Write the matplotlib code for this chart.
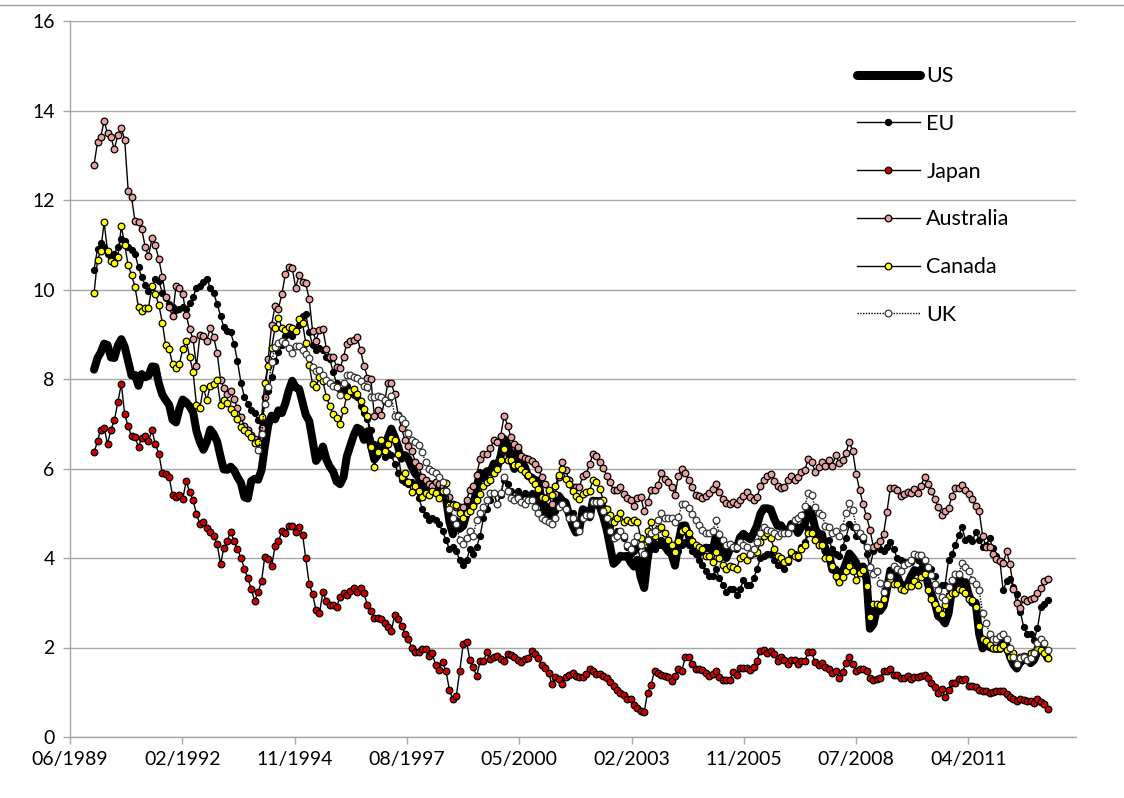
import numpy as np
import pandas as pd
import matplotlib
matplotlib.use("Agg")
import matplotlib.pyplot as plt
import matplotlib.dates as mdates
from matplotlib.lines import Line2D

plt.rcParams['font.family'] = ['Lato', 'DejaVu Sans']

# monthly observations, Jan 1990 .. Apr 2013
start_month = "1990-01-01"
end_month = "2013-04-01"
uk_start_month = "1994-01-01"

us = [
    8.21, 8.47, 8.59, 8.79, 8.76, 8.48, 8.47, 8.75, 8.89, 8.72, 8.39, 8.08,
    8.09, 7.85, 8.11, 8.04, 8.07, 8.28, 8.27, 7.90, 7.65, 7.53, 7.42, 7.09,
    7.03, 7.34, 7.54, 7.48, 7.39, 7.26, 6.84, 6.59, 6.42, 6.59, 6.87, 6.77,
    6.60, 6.26, 5.98, 5.97, 6.04, 5.96, 5.81, 5.68, 5.36, 5.33, 5.72, 5.77,
    5.75, 5.97, 6.48, 6.97, 7.18, 7.10, 7.30, 7.24, 7.46, 7.74, 7.96, 7.81,
    7.78, 7.47, 7.20, 7.06, 6.63, 6.17, 6.28, 6.49, 6.20, 6.04, 5.93, 5.71,
    5.65, 5.81, 6.27, 6.51, 6.74, 6.91, 6.87, 6.64, 6.83, 6.53, 6.20, 6.30,
    6.58, 6.42, 6.69, 6.89, 6.71, 6.49, 6.22, 6.30, 6.21, 6.03, 5.88, 5.81,
    5.54, 5.57, 5.65, 5.64, 5.65, 5.50, 5.46, 5.34, 4.81, 4.53, 4.83, 4.65,
    4.72, 5.00, 5.23, 5.18, 5.54, 5.90, 5.79, 5.94, 5.92, 6.11, 6.03, 6.28,
    6.66, 6.52, 6.26, 5.99, 6.44, 6.10, 6.05, 5.83, 5.80, 5.74, 5.72, 5.24,
    5.16, 5.10, 4.89, 5.14, 5.39, 5.28, 5.24, 4.97, 4.73, 4.57, 4.65, 5.09,
    5.04, 4.91, 5.28, 5.21, 5.16, 4.93, 4.65, 4.26, 3.87, 3.94, 4.05, 4.03,
    4.05, 3.90, 3.81, 3.96, 3.57, 3.33, 3.98, 4.45, 4.27, 4.29, 4.30, 4.27,
    4.15, 4.08, 3.83, 4.35, 4.72, 4.73, 4.50, 4.28, 4.13, 4.10, 4.19, 4.23,
    4.22, 4.17, 4.50, 4.34, 4.14, 4.00, 4.18, 4.26, 4.20, 4.46, 4.54, 4.47,
    4.42, 4.57, 4.72, 4.99, 5.11, 5.11, 5.09, 4.88, 4.72, 4.73, 4.60, 4.56,
    4.76, 4.72, 4.56, 4.69, 4.75, 5.10, 5.00, 4.67, 4.52, 4.53, 4.15, 4.10,
    3.74, 3.74, 3.51, 3.68, 3.88, 4.10, 4.01, 3.89, 3.69, 3.81, 3.53, 2.42,
    2.52, 2.87, 2.82, 2.93, 3.29, 3.72, 3.56, 3.59, 3.40, 3.39, 3.40, 3.59,
    3.73, 3.69, 3.73, 3.85, 3.42, 3.20, 3.01, 2.70, 2.65, 2.54, 2.76, 3.29,
    3.39, 3.58, 3.41, 3.46, 3.17, 3.00, 3.00, 2.30, 1.98, 2.15, 2.01, 1.98,
    1.97, 1.97, 2.17, 2.05, 1.80, 1.62, 1.53, 1.68, 1.72, 1.75, 1.65, 1.72,
    1.91, 1.98, 1.96, 1.76,
]

eu = [
    10.44, 10.91, 11.03, 10.95, 10.80, 10.70, 10.80, 10.95, 11.13, 11.08, 10.96, 10.88,
    10.79, 10.50, 10.27, 10.11, 9.96, 10.05, 10.23, 10.19, 9.93, 9.81, 9.68, 9.62,
    9.54, 9.56, 9.60, 9.56, 9.70, 9.83, 10.04, 10.07, 10.16, 10.24, 10.04, 9.92,
    9.68, 9.41, 9.16, 9.08, 9.04, 8.79, 8.40, 7.92, 7.60, 7.45, 7.30, 7.24,
    7.08, 7.04, 7.45, 7.73, 8.05, 8.40, 8.60, 8.75, 8.95, 9.05, 8.95, 9.10,
    9.20, 9.41, 9.45, 9.05, 8.75, 8.65, 8.70, 8.65, 8.50, 8.45, 8.15, 7.90,
    7.75, 7.75, 7.85, 7.75, 7.65, 7.60, 7.40, 7.25, 7.10, 6.85, 6.55, 6.40,
    6.40, 6.25, 6.35, 6.30, 6.10, 5.90, 5.75, 5.70, 5.65, 5.70, 5.55, 5.35,
    5.10, 4.95, 4.85, 4.90, 4.85, 4.75, 4.60, 4.40, 4.20, 4.25, 4.15, 3.95,
    3.85, 3.95, 4.20, 4.10, 4.25, 4.50, 4.90, 5.10, 5.30, 5.45, 5.20, 5.40,
    5.75, 5.65, 5.50, 5.35, 5.50, 5.40, 5.45, 5.40, 5.45, 5.40, 5.25, 5.05,
    4.95, 4.95, 4.90, 5.05, 5.25, 5.20, 5.20, 5.00, 5.00, 4.75, 4.60, 4.95,
    5.05, 5.05, 5.30, 5.30, 5.30, 5.15, 4.95, 4.70, 4.50, 4.60, 4.60, 4.45,
    4.25, 4.10, 4.15, 4.25, 3.95, 3.70, 4.05, 4.20, 4.20, 4.30, 4.40, 4.35,
    4.25, 4.15, 3.95, 4.15, 4.30, 4.35, 4.30, 4.15, 4.10, 3.95, 3.85, 3.70,
    3.60, 3.60, 3.75, 3.55, 3.40, 3.25, 3.30, 3.30, 3.17, 3.30, 3.50, 3.40,
    3.40, 3.55, 3.75, 4.00, 4.05, 4.10, 4.10, 3.95, 3.85, 3.85, 3.75, 3.90,
    4.10, 4.10, 4.00, 4.25, 4.35, 4.65, 4.55, 4.40, 4.40, 4.40, 4.25, 4.40,
    4.20, 4.10, 4.05, 4.25, 4.45, 4.75, 4.70, 4.50, 4.50, 4.40, 4.10, 3.80,
    4.15, 4.30, 4.20, 4.15, 4.25, 4.35, 4.20, 4.00, 3.95, 3.90, 3.90, 3.90,
    4.00, 3.95, 3.90, 3.95, 3.65, 3.75, 3.60, 3.30, 3.40, 3.40, 3.95, 4.08,
    4.30, 4.52, 4.69, 4.40, 4.45, 4.37, 4.58, 4.41, 4.25, 4.28, 4.44, 4.22,
    4.05, 3.94, 3.28, 3.48, 3.53, 3.35, 3.19, 2.80, 2.45, 2.31, 2.31, 2.17,
    2.43, 2.91, 2.98, 3.06,
]

japan = [
    6.36, 6.61, 6.87, 6.91, 6.55, 6.87, 7.08, 7.49, 7.89, 7.21, 6.94, 6.72,
    6.70, 6.48, 6.69, 6.72, 6.61, 6.85, 6.55, 6.33, 5.90, 5.87, 5.80, 5.41,
    5.36, 5.41, 5.32, 5.72, 5.47, 5.29, 4.98, 4.77, 4.81, 4.68, 4.59, 4.50,
    4.31, 3.86, 4.22, 4.38, 4.59, 4.37, 4.20, 4.01, 3.76, 3.55, 3.31, 3.04,
    3.24, 3.49, 4.02, 3.97, 3.82, 4.26, 4.37, 4.60, 4.56, 4.71, 4.72, 4.58,
    4.69, 4.52, 4.00, 3.42, 3.19, 2.83, 2.76, 3.24, 3.03, 2.94, 2.94, 2.91,
    3.13, 3.22, 3.18, 3.27, 3.33, 3.24, 3.34, 3.21, 2.94, 2.81, 2.67, 2.67,
    2.63, 2.54, 2.46, 2.37, 2.72, 2.64, 2.49, 2.31, 2.19, 1.98, 1.91, 1.91,
    1.96, 1.97, 1.82, 1.87, 1.60, 1.50, 1.67, 1.47, 1.05, 0.84, 0.92, 1.47,
    2.07, 2.12, 1.73, 1.56, 1.36, 1.69, 1.70, 1.90, 1.75, 1.78, 1.82, 1.75,
    1.70, 1.85, 1.84, 1.78, 1.73, 1.67, 1.75, 1.76, 1.93, 1.85, 1.76, 1.61,
    1.54, 1.42, 1.18, 1.35, 1.30, 1.18, 1.35, 1.38, 1.42, 1.36, 1.33, 1.35,
    1.41, 1.52, 1.47, 1.41, 1.41, 1.36, 1.32, 1.24, 1.15, 1.06, 0.99, 0.93,
    0.84, 0.84, 0.72, 0.65, 0.59, 0.56, 0.99, 1.17, 1.47, 1.42, 1.38, 1.36,
    1.33, 1.26, 1.36, 1.52, 1.48, 1.78, 1.78, 1.64, 1.52, 1.51, 1.50, 1.44,
    1.36, 1.41, 1.47, 1.33, 1.27, 1.27, 1.27, 1.45, 1.39, 1.54, 1.54, 1.54,
    1.50, 1.57, 1.70, 1.93, 1.94, 1.88, 1.93, 1.85, 1.69, 1.78, 1.73, 1.63,
    1.72, 1.73, 1.63, 1.69, 1.69, 1.90, 1.90, 1.67, 1.61, 1.66, 1.57, 1.52,
    1.44, 1.47, 1.32, 1.45, 1.66, 1.78, 1.63, 1.47, 1.51, 1.52, 1.47, 1.32,
    1.27, 1.30, 1.32, 1.47, 1.48, 1.52, 1.39, 1.38, 1.32, 1.32, 1.36, 1.30,
    1.33, 1.35, 1.36, 1.38, 1.32, 1.21, 1.11, 0.99, 1.08, 0.89, 1.06, 1.21,
    1.21, 1.29, 1.27, 1.29, 1.15, 1.14, 1.12, 1.06, 1.03, 1.02, 0.99, 1.00,
    1.03, 1.02, 1.03, 0.97, 0.90, 0.86, 0.81, 0.84, 0.83, 0.80, 0.80, 0.75,
    0.84, 0.78, 0.74, 0.62,
]

australia = [
    12.79, 13.29, 13.40, 13.77, 13.49, 13.40, 13.13, 13.46, 13.61, 13.34, 12.21, 12.06,
    11.52, 11.51, 11.36, 10.96, 10.74, 11.15, 10.99, 10.68, 10.29, 9.83, 9.60, 9.41,
    10.08, 10.04, 9.89, 9.43, 9.11, 8.89, 8.28, 8.98, 8.95, 8.86, 9.13, 8.94,
    8.59, 7.97, 7.81, 7.67, 7.73, 7.55, 7.35, 7.15, 6.95, 6.85, 6.75, 6.65,
    6.60, 6.90, 7.60, 8.45, 9.20, 9.64, 9.57, 9.90, 10.35, 10.51, 10.48, 10.04,
    10.32, 10.16, 10.14, 9.78, 9.07, 8.86, 9.10, 9.11, 8.68, 8.49, 8.49, 8.27,
    8.24, 8.50, 8.79, 8.86, 8.88, 8.94, 8.64, 8.30, 8.03, 8.00, 7.17, 7.30,
    7.20, 7.50, 7.91, 7.91, 7.66, 7.20, 6.90, 6.63, 6.50, 6.38, 6.15, 6.05,
    5.81, 5.75, 5.65, 5.60, 5.70, 5.65, 5.60, 5.50, 5.36, 5.20, 5.14, 5.14,
    5.14, 5.30, 5.53, 5.60, 5.86, 6.21, 6.33, 6.33, 6.45, 6.63, 6.60, 6.73,
    7.18, 6.96, 6.70, 6.55, 6.47, 6.29, 6.23, 6.21, 6.17, 6.11, 5.99, 5.81,
    5.65, 5.40, 5.20, 5.44, 5.80, 6.14, 5.96, 5.75, 5.59, 5.59, 5.59, 5.83,
    5.88, 6.10, 6.33, 6.29, 6.15, 6.02, 5.84, 5.69, 5.51, 5.51, 5.59, 5.44,
    5.33, 5.29, 5.17, 5.35, 5.36, 5.05, 5.25, 5.51, 5.53, 5.63, 5.90, 5.76,
    5.69, 5.59, 5.41, 5.84, 5.99, 5.90, 5.75, 5.59, 5.41, 5.38, 5.33, 5.39,
    5.45, 5.55, 5.65, 5.47, 5.32, 5.23, 5.21, 5.26, 5.21, 5.30, 5.38, 5.47,
    5.36, 5.29, 5.36, 5.60, 5.75, 5.83, 5.87, 5.72, 5.62, 5.57, 5.59, 5.74,
    5.84, 5.75, 5.80, 5.92, 5.96, 6.21, 6.15, 5.93, 6.03, 6.15, 6.05, 6.20,
    6.06, 6.30, 6.12, 6.18, 6.35, 6.60, 6.38, 5.87, 5.51, 5.20, 4.93, 4.63,
    4.25, 4.29, 4.37, 4.53, 5.02, 5.57, 5.57, 5.51, 5.39, 5.42, 5.47, 5.45,
    5.54, 5.45, 5.62, 5.80, 5.65, 5.50, 5.31, 5.14, 4.96, 5.04, 5.11, 5.39,
    5.57, 5.56, 5.63, 5.53, 5.44, 5.31, 5.16, 5.04, 4.49, 4.25, 4.25, 4.10,
    3.97, 3.94, 3.88, 4.15, 3.86, 3.31, 3.00, 2.89, 3.09, 3.03, 3.09, 3.10,
    3.21, 3.33, 3.48, 3.52,
]

canada = [
    9.92, 10.65, 10.87, 11.50, 10.86, 10.63, 10.60, 10.72, 11.42, 11.00, 10.54, 10.33,
    10.05, 9.60, 9.53, 9.58, 9.59, 10.08, 9.89, 9.66, 9.26, 8.76, 8.67, 8.33,
    8.25, 8.34, 8.67, 8.86, 8.49, 8.16, 7.42, 7.36, 7.81, 7.52, 7.85, 7.88,
    7.97, 7.43, 7.54, 7.46, 7.34, 7.25, 7.10, 6.93, 6.85, 6.79, 6.70, 6.58,
    6.60, 7.15, 7.90, 8.30, 8.70, 9.14, 9.37, 9.15, 9.10, 9.16, 9.14, 9.07,
    9.34, 9.25, 8.80, 8.31, 7.88, 7.82, 8.04, 7.95, 7.60, 7.40, 7.21, 7.12,
    7.00, 7.30, 7.63, 7.73, 7.77, 7.66, 7.50, 7.33, 7.17, 6.48, 6.03, 6.36,
    6.63, 6.39, 6.55, 6.69, 6.63, 6.33, 5.80, 5.90, 5.69, 5.47, 5.62, 5.50,
    5.36, 5.45, 5.40, 5.50, 5.45, 5.33, 5.50, 5.68, 5.18, 5.18, 5.18, 5.00,
    4.90, 5.00, 5.05, 5.16, 5.30, 5.44, 5.62, 5.70, 5.75, 5.90, 6.00, 6.20,
    6.44, 6.18, 6.18, 6.08, 6.08, 6.00, 5.92, 5.86, 5.74, 5.65, 5.54, 5.36,
    5.33, 5.51, 5.41, 5.60, 5.86, 5.99, 5.76, 5.66, 5.50, 5.38, 5.32, 5.44,
    5.47, 5.50, 5.75, 5.70, 5.55, 5.30, 5.10, 4.95, 4.80, 4.90, 5.00, 4.80,
    4.85, 4.80, 4.85, 4.80, 4.45, 4.30, 4.60, 4.80, 4.50, 4.65, 4.70, 4.55,
    4.40, 4.29, 4.14, 4.38, 4.60, 4.65, 4.55, 4.38, 4.30, 4.25, 4.20, 4.05,
    4.04, 3.92, 4.14, 4.00, 3.85, 3.75, 3.83, 3.80, 3.75, 4.00, 4.05, 3.95,
    4.07, 4.11, 4.13, 4.35, 4.50, 4.55, 4.45, 4.20, 4.05, 4.00, 3.92, 3.95,
    4.13, 4.05, 4.05, 4.20, 4.30, 4.55, 4.55, 4.40, 4.30, 4.30, 4.00, 4.00,
    3.83, 3.60, 3.46, 3.58, 3.70, 3.82, 3.70, 3.50, 3.67, 3.73, 3.37, 2.69,
    2.97, 2.97, 2.95, 3.09, 3.42, 3.52, 3.43, 3.42, 3.31, 3.28, 3.37, 3.37,
    3.49, 3.40, 3.58, 3.64, 3.28, 3.09, 2.98, 2.85, 2.75, 2.94, 3.15, 3.21,
    3.21, 3.31, 3.28, 3.21, 3.09, 3.07, 2.91, 2.49, 2.18, 2.15, 2.05, 1.99,
    2.00, 1.99, 2.05, 1.95, 1.78, 1.87, 1.75, 1.79, 1.82, 1.79, 1.87, 1.90,
    1.99, 1.95, 1.88, 1.76,
]

uk = [
    6.41, 6.78, 7.45, 7.82, 8.38, 8.71, 8.80, 8.86, 8.80, 8.70, 8.58, 8.73,
    8.73, 8.64, 8.55, 8.46, 8.27, 8.18, 8.20, 8.10, 7.98, 7.90, 7.85, 7.82,
    7.65, 7.90, 8.09, 8.09, 8.05, 8.03, 7.95, 7.85, 7.82, 7.60, 7.60, 7.61,
    7.60, 7.54, 7.46, 7.63, 7.17, 7.17, 7.10, 7.02, 6.79, 6.63, 6.60, 6.53,
    6.36, 6.14, 6.00, 5.95, 5.90, 5.80, 5.70, 5.50, 5.10, 4.90, 4.75, 4.40,
    4.32, 4.45, 4.60, 4.50, 4.85, 5.00, 5.15, 5.30, 5.45, 5.45, 5.20, 5.45,
    5.81, 5.50, 5.35, 5.30, 5.35, 5.25, 5.20, 5.30, 5.30, 5.15, 5.00, 4.90,
    4.85, 4.80, 4.75, 4.90, 5.15, 5.20, 5.10, 4.90, 4.90, 4.75, 4.60, 4.90,
    4.95, 4.95, 5.25, 5.25, 5.25, 5.05, 4.90, 4.60, 4.45, 4.50, 4.60, 4.50,
    4.30, 4.20, 4.35, 4.50, 4.30, 4.10, 4.40, 4.55, 4.60, 4.85, 5.00, 4.90,
    4.90, 4.90, 4.80, 4.92, 5.20, 5.21, 5.11, 4.98, 4.86, 4.74, 4.62, 4.55,
    4.55, 4.60, 4.84, 4.54, 4.40, 4.30, 4.31, 4.25, 4.25, 4.35, 4.30, 4.25,
    4.10, 4.20, 4.35, 4.55, 4.69, 4.63, 4.60, 4.55, 4.50, 4.55, 4.55, 4.55,
    4.70, 4.85, 4.89, 4.95, 5.16, 5.45, 5.40, 5.14, 5.00, 4.96, 4.72, 4.69,
    4.55, 4.61, 4.50, 4.70, 5.00, 5.23, 5.07, 4.69, 4.55, 4.47, 4.25, 3.80,
    3.65, 3.70, 3.45, 3.25, 3.43, 3.60, 3.83, 3.76, 3.70, 3.85, 3.89, 3.95,
    4.08, 4.07, 4.07, 3.95, 3.80, 3.62, 3.43, 3.28, 3.13, 3.06, 3.35, 3.50,
    3.64, 3.65, 3.89, 3.80, 3.71, 3.50, 3.42, 3.28, 2.76, 2.55, 2.31, 2.19,
    2.20, 2.25, 2.31, 2.18, 2.00, 1.79, 1.64, 1.76, 1.78, 1.73, 1.76, 1.87,
    2.10, 2.18, 2.09, 1.94,
]

series_names = ["US", "EU", "Japan", "Australia", "Canada", "UK"]
y_ticks = [0, 2, 4, 6, 8, 10, 12, 14, 16]

dates = pd.date_range(start_month, end_month, freq="MS")
uk_dates = pd.date_range(uk_start_month, end_month, freq="MS")

W, H = 1124, 798
fig = plt.figure(figsize=(W / 100, H / 100), dpi=100)
ax = fig.add_axes([70 / W, 1 - 737 / H, (1076 - 70) / W, (737 - 21) / H])

grid_c = "#A6A6A6"
ax.set_ylim(0, 16)
ax.set_yticks(y_ticks)
ax.yaxis.grid(True, color=grid_c, lw=1.0)
ax.set_axisbelow(True)

axis_left = pd.Timestamp("1989-06-01")
ax.set_xlim(mdates.date2num(axis_left), mdates.date2num(axis_left) + 8958)
tick_dates = [axis_left + pd.Timedelta(days=1000 * k) for k in range(9)]
ax.set_xticks([mdates.date2num(d) for d in tick_dates])
ax.xaxis.set_major_formatter(mdates.DateFormatter("%m/%Y"))

for s in ["top", "right"]:
    ax.spines[s].set_visible(False)
for s in ["left", "bottom"]:
    ax.spines[s].set_color(grid_c)
    ax.spines[s].set_linewidth(1.0)
ax.tick_params(axis="both", colors=grid_c, length=5, width=1.0, labelcolor="black",
               labelsize=14)
ax.tick_params(axis="y", pad=6)
ax.tick_params(axis="x", pad=5)

ms = 4.8
mew = 0.9
ax.plot(dates, us, color="black", lw=5.8, solid_joinstyle="round",
        solid_capstyle="round", label="US", zorder=3)
ax.plot(dates, eu, color="black", lw=1.0, marker="o", ms=4.3, mfc="black",
        mec="black", mew=mew, label="EU", zorder=4)
ax.plot(dates, japan, color="black", lw=1.0, marker="o", ms=ms, mfc="#D00000",
        mec="black", mew=mew, label="Japan", zorder=5)
ax.plot(dates, australia, color="black", lw=1.0, marker="o", ms=ms, mfc="#E6A0A0",
        mec="black", mew=mew, label="Australia", zorder=6)
ax.plot(dates, canada, color="black", lw=1.0, marker="o", ms=ms, mfc="#FFFF00",
        mec="black", mew=mew, label="Canada", zorder=7)
ax.plot(uk_dates, uk, color="black", lw=1.0, ls=(0, (1, 1)), marker="o", ms=ms,
        mfc="white", mec="#333333", mew=mew, label="UK", zorder=8)

handles = [
    Line2D([], [], color="black", lw=6.5, solid_capstyle="round"),
    Line2D([], [], color="black", lw=1.0, marker="o", ms=4.3, mfc="black", mec="black"),
    Line2D([], [], color="black", lw=1.0, marker="o", ms=ms, mfc="#D00000", mec="black", mew=mew),
    Line2D([], [], color="black", lw=1.0, marker="o", ms=ms, mfc="#E6A0A0", mec="black", mew=mew),
    Line2D([], [], color="black", lw=1.0, marker="o", ms=ms, mfc="#FFFF00", mec="black", mew=mew),
    Line2D([], [], color="black", lw=1.0, ls=(0, (1, 1)), marker="o", ms=ms, mfc="white",
           mec="#333333", mew=mew),
]
leg = ax.legend(handles, series_names, loc="upper left", bbox_to_anchor=(0.782, 0.937),
                frameon=False, fontsize=15.5, handlelength=2.95, handletextpad=0.28,
                labelspacing=1.29, borderaxespad=0, borderpad=0)

# chart-area top border
fig.add_artist(Line2D([0, 1], [1 - 5 / H, 1 - 5 / H], transform=fig.transFigure,
                      color="#9A9A9A", lw=1.0))

fig.savefig("out.png", dpi=100)
